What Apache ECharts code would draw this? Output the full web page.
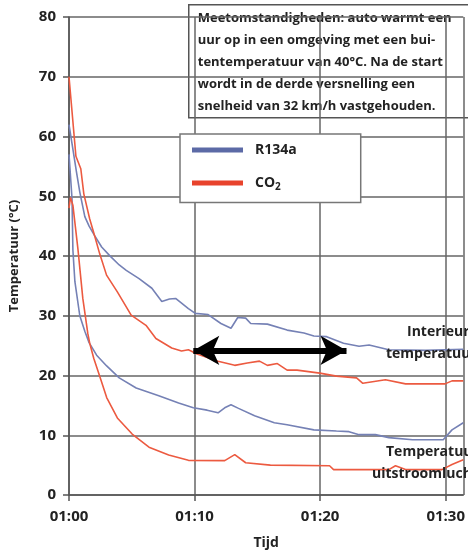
<!DOCTYPE html>
<html>
<head>
<meta charset="utf-8">
<script src="https://cdn.jsdelivr.net/npm/echarts@6/dist/echarts.min.js"></script>
<style>
  html, body { margin: 0; padding: 0; background: #fff; }
  #chart { width: 468px; height: 555px; }
</style>
</head>
<body>
<div id="chart"></div>
<script>
// minutes after 01:00 -> temperature (°C)
const r134aInterior = [[0, 62], [0.3, 58], [0.6, 54], [0.86, 50.7], [1.26, 46.6], [1.6, 45], [2.04, 43.4], [2.6, 41.5], [3.22, 40.1], [4.0, 38.5], [4.56, 37.6], [5.58, 36.2], [6.6, 34.6], [7.39, 32.4], [8.0, 32.8], [8.49, 32.9], [9.51, 31.2], [10.06, 30.4], [11.08, 30.2], [12.1, 28.7], [12.9, 27.9], [13.44, 29.7], [14.07, 29.6], [14.47, 28.7], [15.8, 28.6], [17.37, 27.6], [18.71, 27.1], [19.5, 26.6], [20.52, 26.5], [21.86, 25.4], [23.1, 24.9], [23.9, 25.1], [25.47, 24.3], [28.4, 24.2], [31.4, 24.4]]
const co2Interior = [[0, 70], [0.55, 56.7], [0.94, 54.6], [1.18, 50.4], [1.65, 46.2], [2.04, 43.4], [2.44, 40.4], [2.99, 36.8], [3.85, 34], [4.95, 30.1], [6.13, 28.4], [6.92, 26.2], [8.18, 24.6], [8.96, 24.1], [9.51, 24.3], [10.2, 23.6], [11.87, 22.4], [13.2, 21.7], [14.2, 22.1], [15.17, 22.4], [15.8, 21.7], [16.59, 22], [17.37, 20.9], [18.16, 20.9], [19.97, 20.4], [21.3, 19.9], [22.9, 19.6], [23.4, 18.7], [25.2, 19.3], [26.8, 18.6], [29.95, 18.6], [30.5, 19.1], [31.4, 19.1]]
const r134aOutlet = [[0, 57], [0.24, 49.6], [0.31, 41], [0.47, 35.7], [0.86, 30], [1.26, 27.4], [1.6, 25.5], [2.2, 23.4], [3, 21.6], [4, 19.6], [5.35, 17.9], [7.15, 16.6], [8.73, 15.4], [9.9, 14.6], [11.0, 14.2], [11.87, 13.75], [12.4, 14.6], [12.9, 15.1], [13.5, 14.5], [14.78, 13.25], [16.35, 12.1], [17.37, 11.75], [19.5, 10.9], [21.3, 10.7], [22.3, 10.6], [23.1, 10.1], [24.4, 10.1], [25.47, 9.6], [27.36, 9.25], [29.8, 9.25], [30.5, 10.9], [31.4, 12.1]]
const co2Outlet = [[0, 48], [0.12, 49.8], [0.31, 48.5], [0.71, 41.2], [1.1, 32.9], [1.5, 27], [1.65, 25.4], [1.97, 22.9], [2.44, 19.9], [3, 16.3], [3.85, 12.9], [5.03, 10.2], [6.37, 8], [7.94, 6.7], [9.51, 5.8], [12.4, 5.75], [13.2, 6.75], [14.07, 5.4], [16.04, 5.0], [20.75, 4.9], [21.07, 4.25], [25.47, 4.25], [26.0, 4.9], [26.8, 4.25], [29.7, 4.25], [30.5, 5.1], [31.4, 5.9]]

const xTickLabels = { 0: '01:00', 10: '01:10', 20: '01:20', 30: '01:30' }
const arrowSpan = [[9.9, 24.2], [22.1, 24.2]]
const noteLines = [
  'Meetomstandigheden: auto warmt een',
  'uur op in een omgeving met een bui-',
  'tentemperatuur van 40°C. Na de start',
  'wordt in de derde versnelling een',
  'snelheid van 32 km/h vastgehouden.'
]

const FONT = '"Open Sans", "DejaVu Sans", sans-serif'
const BLUE = '#7581b5'
const RED = '#ec5a40'
const GRID = '#666'

const chart = echarts.init(document.getElementById('chart'))

const axisCommon = {
  axisLine: { show: true, lineStyle: { color: '#555', width: 1.5 } },
  axisTick: { show: true, length: 6, lineStyle: { color: '#555', width: 1.5 } },
  splitLine: { show: true, lineStyle: { color: GRID, width: 1.5 } },
  nameTextStyle: { fontFamily: FONT, fontWeight: 'bold', fontSize: 13, color: '#222' }
}

const lineSeries = (name, data, color) => ({
  name: name,
  type: 'line',
  data: data,
  symbol: 'none',
  color: color,
  lineStyle: { color: color, width: 1.6 },
  emphasis: { disabled: true },
  z: 3
})

const option = {
  animation: false,
  textStyle: { fontFamily: FONT },
  grid: { left: 69, top: 17, right: 0, bottom: 58 },
  xAxis: {
    ...axisCommon,
    type: 'value',
    min: 0,
    max: 31.4,
    interval: 10,
    name: 'Tijd',
    nameLocation: 'middle',
    nameGap: 41,
    nameTextStyle: { fontFamily: FONT, fontWeight: 'bold', fontSize: 14, color: '#222' },
    axisLabel: {
      fontFamily: FONT, fontWeight: 'bold', fontSize: 15, color: '#222', margin: 14,
      showMaxLabel: false,
      formatter: (v) => xTickLabels[v] || ''
    }
  },
  yAxis: {
    ...axisCommon,
    type: 'value',
    min: 0,
    max: 80,
    interval: 10,
    name: 'Temperatuur (°C)',
    nameLocation: 'middle',
    nameGap: 48,
    axisLabel: { fontFamily: FONT, fontWeight: 'bold', fontSize: 15, color: '#222', margin: 13 }
  },
  legend: {
    left: 180,
    top: 134,
    orient: 'vertical',
    selectedMode: false,
    backgroundColor: '#fff',
    borderColor: '#777',
    borderWidth: 1.5,
    borderRadius: 0,
    padding: [9, 64, 10, 12],
    itemGap: 19,
    itemWidth: 51,
    itemHeight: 5,
    icon: 'rect',
    data: [
      { name: 'R134a', itemStyle: { color: '#5c6aa6' } },
      { name: 'CO2', itemStyle: { color: '#e8432c' } }
    ],
    formatter: (name) => (name === 'CO2' ? 'CO{sub|2}' : name),
    textStyle: {
      fontFamily: FONT, fontWeight: 'bold', fontSize: 14, color: '#222',
      padding: [0, 0, 0, 7],
      rich: {
        sub: { fontFamily: FONT, fontWeight: 'bold', fontSize: 10, color: '#222', padding: [9, 0, 0, 0] }
      }
    }
  },
  series: [
    lineSeries('R134a', r134aInterior, BLUE),
    lineSeries('R134a', r134aOutlet, BLUE),
    lineSeries('CO2', co2Outlet, RED),
    {
      ...lineSeries('CO2', co2Interior, RED),
      markLine: {
        silent: true,
        symbol: ['arrow', 'arrow'],
        symbolSize: [22, 26],
        label: { show: false },
        lineStyle: { color: '#000', width: 6, type: 'solid' },
        data: [[{ coord: arrowSpan[0] }, { coord: arrowSpan[1] }]]
      }
    }
  ],
  graphic: [
    {
      type: 'group',
      left: 188,
      top: 4,
      z: 10,
      children: [
        {
          type: 'rect',
          shape: { x: 0, y: 0, width: 300, height: 113 },
          style: { fill: '#fff', stroke: '#555', lineWidth: 1.5 }
        },
        {
          type: 'text',
          x: 9,
          y: 3,
          style: {
            text: noteLines.join('\n'),
            font: 'bold 13px ' + FONT,
            lineHeight: 22,
            fill: '#222'
          }
        }
      ]
    },
    { type: 'text', x: 407, y: 325, z: 10, style: { text: 'Interieur-', font: 'bold 14px ' + FONT, fill: '#222' } },
    { type: 'text', x: 386, y: 347, z: 10, style: { text: 'temperatuur', font: 'bold 14px ' + FONT, fill: '#222' } },
    { type: 'text', x: 386, y: 445, z: 10, style: { text: 'Temperatuur', font: 'bold 14px ' + FONT, fill: '#222' } },
    { type: 'text', x: 372, y: 467, z: 10, style: { text: 'uitstroomlucht', font: 'bold 14px ' + FONT, fill: '#222' } }
  ]
}

chart.setOption(option)
</script>
</body>
</html>
